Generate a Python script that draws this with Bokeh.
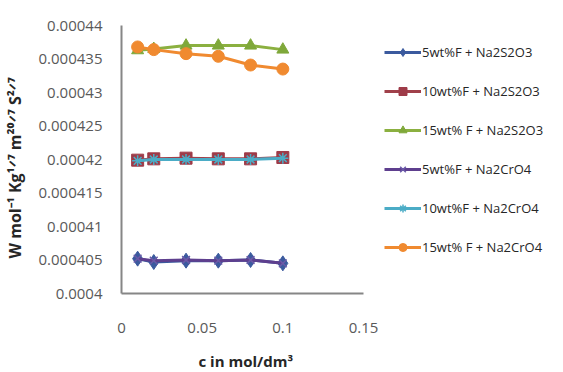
from bokeh.plotting import figure
from bokeh.models import Range1d, FixedTicker, PrintfTickFormatter, Legend, LegendItem, Title
from bokeh.embed import file_html
from bokeh.resources import INLINE

# ---- data ----
c_values = [0.01, 0.02, 0.04, 0.06, 0.08, 0.1]
w_5_s2o3 = [0.0004052, 0.0004047, 0.0004049, 0.0004049, 0.0004050, 0.0004045]
w_10_s2o3 = [0.0004199, 0.0004201, 0.0004202, 0.0004201, 0.0004201, 0.0004203]
w_15_s2o3 = [0.0004363, 0.0004365, 0.0004370, 0.0004370, 0.0004370, 0.0004364]
w_5_cro4 = [0.0004052, 0.0004049, 0.0004050, 0.0004049, 0.0004050, 0.0004045]
w_10_cro4 = [0.0004198, 0.0004200, 0.0004200, 0.0004200, 0.0004200, 0.0004202]
w_15_cro4 = [0.0004368, 0.0004364, 0.0004358, 0.0004354, 0.0004341, 0.0004335]

series_names = ["5wt%F + Na2S2O3", "10wt%F + Na2S2O3", "15wt% F + Na2S2O3",
                "5wt%F + Na2CrO4", "10wt%F + Na2CrO4", "15wt% F + Na2CrO4"]
y_ticks = [0.0004, 0.000405, 0.00041, 0.000415, 0.00042, 0.000425, 0.00043, 0.000435, 0.00044]
x_ticks = [0, 0.05, 0.1, 0.15]

series = [w_5_s2o3, w_10_s2o3, w_15_s2o3, w_5_cro4, w_10_cro4, w_15_cro4]
line_colors = ["#3B5A9E", "#A0404A", "#8BB040", "#5E3F8E", "#4BACC6", "#F08A30"]
marker_colors = ["#3B5A9E", "#9E3B48", "#7FA83A", "#6A5AA8", "#4BACC6", "#F08A30"]
markers = ["diamond", "square", "triangle", "x", "asterisk", "circle"]
sizes = [15, 12, 12, 11, 11, 12]

# frame spans 120..563 px; axis drawn only over 0..0.15 (120..362 px)
p = figure(frame_width=443, frame_height=268, output_backend="svg", toolbar_location=None,
           x_range=Range1d(0, 0.15 * 443 / 242), y_range=Range1d(0.0004, 0.00044),
           min_border_left=120, min_border_right=0, min_border_top=25, min_border_bottom=79)
p.outline_line_color = None
p.xgrid.visible = False
p.ygrid.visible = False
p.background_fill_color = "white"
p.border_fill_color = "white"

items = []
for vals, name, lc, mc, mk, sz in zip(series, series_names, line_colors, marker_colors, markers, sizes):
    r1 = p.line(c_values, vals, line_color=lc, line_width=3)
    if mk in ("x", "asterisk"):
        r2 = p.scatter(c_values, vals, marker=mk, size=sz, line_color=mc, line_width=1.5)
    else:
        r2 = p.scatter(c_values, vals, marker=mk, size=sz, fill_color=mc, line_color=mc)
    items.append(LegendItem(label=name, renderers=[r1, r2]))

for ax in (p.xaxis[0], p.yaxis[0]):
    ax.axis_line_color = "#868686"
    ax.axis_line_width = 2
    ax.major_tick_line_color = None
    ax.minor_tick_line_color = None
    ax.major_label_text_font = "Open Sans"
    ax.major_label_text_font_size = "15px"
    ax.major_label_text_color = "#595959"

p.yaxis.ticker = FixedTicker(ticks=y_ticks)
p.yaxis.formatter = PrintfTickFormatter(format="%g")
p.yaxis.major_label_standoff = 13
p.yaxis.axis_label = "W  mol\u207b\u00b9  Kg\u00b9\u141f\u2077  m\u00b2\u2070\u141f\u2077  S\u00b2\u141f\u2077"
p.yaxis.axis_label_text_font = "Open Sans"
p.yaxis.axis_label_text_font_style = "bold"
p.yaxis.axis_label_text_font_size = "16px"
p.yaxis.axis_label_text_color = "#262626"
p.yaxis.axis_label_standoff = 10

p.xaxis.bounds = (0, 0.15)
p.xaxis.ticker = FixedTicker(ticks=x_ticks)
p.xaxis.formatter = PrintfTickFormatter(format="%g")
p.xaxis.major_label_standoff = 23

xtitle = Title(text="c in mol/dm\u00b3", align="left", offset=77,
               text_font="Open Sans", text_font_style="bold", text_font_size="15px",
               text_color="#262626", standoff=26)
p.add_layout(xtitle, "below")

legend = Legend(items=items, location=(263, 36))
legend.border_line_color = None
legend.background_fill_alpha = 0
legend.label_text_font = "Open Sans"
legend.label_text_font_size = "13px"
legend.label_text_color = "#262626"
legend.glyph_width = 37
legend.glyph_height = 20
legend.spacing = 19
legend.label_standoff = 1
legend.padding = 0
legend.margin = 0
p.add_layout(legend)

open("out.html", "w").write(file_html(p, INLINE))
